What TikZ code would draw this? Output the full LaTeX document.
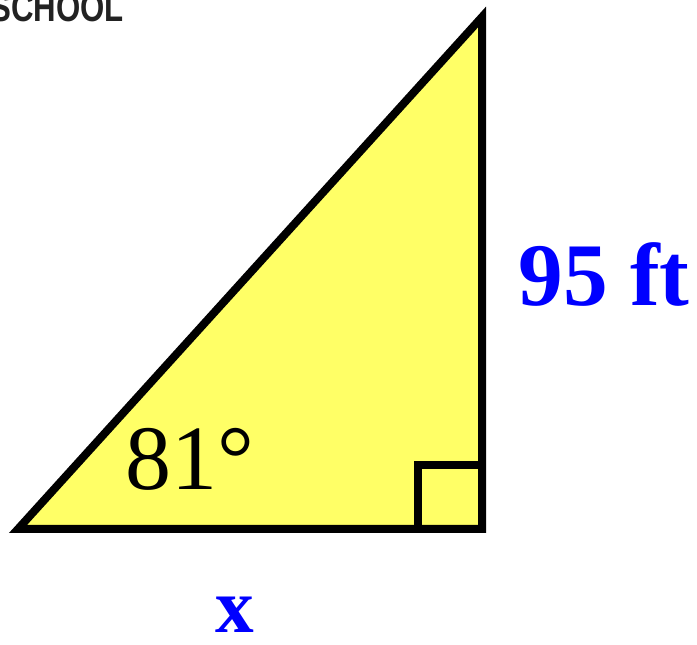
\documentclass[tikz,border=0pt]{standalone}
\usepackage{fontspec}
\setmainfont{Liberation Serif}
\newfontfamily\schoolfont{Liberation Sans}
\definecolor{triyellow}{RGB}{255,255,102}
\definecolor{labelblue}{RGB}{0,0,255}
\definecolor{schoolgray}{RGB}{34,34,34}
\begin{document}
\begin{tikzpicture}[x=0.75pt,y=-0.75pt,
  edge/.style={line width=6pt,line join=miter,black},
  sidelabel/.style={text=labelblue,font=\bfseries,inner sep=0pt,anchor=base},
  anglelabel/.style={text=black,inner sep=0pt,anchor=base}]
\useasboundingbox (0,0) rectangle (697,645);
\coordinate (A) at (18,529);
\coordinate (B) at (482,529);
\coordinate (C) at (482,17);
\coordinate (S1) at (418,529);
\coordinate (S2) at (418,465);
\coordinate (S3) at (482,465);
\filldraw[edge,fill=triyellow] (A) -- (B) -- (C) -- cycle;
\draw[edge] (S1) -- (S2) -- (S3);
\node[sidelabel,font=\fontsize{67}{67}\selectfont\bfseries] (len) at (604,306) {95 ft};
\node[sidelabel,font=\fontsize{58}{58}\selectfont\bfseries] (x) at (235,633) {x};
\node[anglelabel,font=\fontsize{69}{69}\selectfont] (ang) at (190,489) {81°};
\node[inner sep=0pt,anchor=base east,text=schoolgray,xscale=0.78,font=\schoolfont\fontsize{30}{30}\selectfont\bfseries] (school) at (124,22) {SCHOOL};
\end{tikzpicture}
\end{document}
